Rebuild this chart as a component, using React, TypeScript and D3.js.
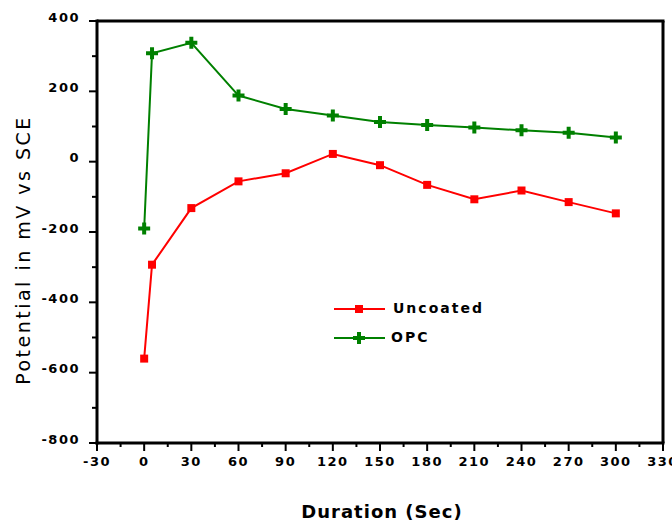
import React from "react";
import * as d3 from "d3";

const durations = [0, 5, 30, 60, 90, 120, 150, 180, 210, 240, 270, 300];
const uncoated = [-560, -293, -132, -56, -33, 22, -10, -66, -107, -82, -115, -147];
const opcDurations = [0, 5, 30, 60, 90, 120, 150, 180, 210, 240, 270, 300];
const opc = [-190, 308, 338, 188, 150, 131, 113, 104, 97, 89, 82, 69];
const xTicks = [-30, 0, 30, 60, 90, 120, 150, 180, 210, 240, 270, 300, 330];
const yTicks = [400, 200, 0, -200, -400, -600, -800];
const seriesNames = ["Uncoated", "OPC"];

const W = 672;
const H = 523;
const L = 97, R = 663, T = 21, B = 443;

export default function App() {
  const x = d3.scaleLinear().domain([-30, 330]).range([L, R]);
  const y = d3.scaleLinear().domain([-800, 400]).range([B, T]);
  const line = d3.line<[number, number]>().x(d => x(d[0])).y(d => y(d[1]));
  const redPts: [number, number][] = durations.map((d, i) => [d, uncoated[i]]);
  const greenPts: [number, number][] = opcDurations.map((d, i) => [d, opc[i]]);
  const cross = d3.symbol().type(d3.symbolCross).size(80)() as string;
  const square = d3.symbol().type(d3.symbolSquare).size(64)() as string;
  const xMinor = d3.range(-15, 330, 30);
  const yMinor = d3.range(-700, 400, 200);
  const tickFont = { fontFamily: "DejaVu Sans", fontWeight: 700, fontSize: 13, letterSpacing: 1.5 } as const;

  return (
    <svg width={W} height={H} style={{ position: "absolute", left: 0, top: 0, background: "#fff" }}>
      <rect x={0} y={0} width={W} height={H} fill="#fff" />
      {/* data lines */}
      <path d={line(greenPts) || ""} fill="none" stroke="#008000" strokeWidth={2} />
      <path d={line(redPts) || ""} fill="none" stroke="#ff0000" strokeWidth={2} />
      {redPts.map((p, i) => (
        <path key={"r" + i} d={square} transform={`translate(${x(p[0])},${y(p[1])})`} fill="#ff0000" />
      ))}
      {greenPts.map((p, i) => (
        <path key={"g" + i} d={cross} transform={`translate(${x(p[0])},${y(p[1])})`} fill="#008000" />
      ))}
      {/* frame */}
      <line x1={L} x2={R + 1.5} y1={T} y2={T} stroke="#000" strokeWidth={3} />
      <line x1={R} x2={R} y1={T} y2={B} stroke="#000" strokeWidth={3} />
      <line x1={L} x2={L} y1={T - 1.5} y2={B + 1.5} stroke="#000" strokeWidth={3} />
      <line x1={L - 1.5} x2={R + 1.5} y1={B} y2={B} stroke="#000" strokeWidth={3} />
      {/* y ticks */}
      {yTicks.map(v => (
        <g key={"yt" + v}>
          <line x1={L - 8} x2={L} y1={y(v)} y2={y(v)} stroke="#000" strokeWidth={2} />
          <text x={80} y={y(v) - 3} textAnchor="end" dominantBaseline="middle" {...tickFont}>{v}</text>
        </g>
      ))}
      {yMinor.map(v => (
        <line key={"ym" + v} x1={L - 5} x2={L} y1={y(v)} y2={y(v)} stroke="#000" strokeWidth={2} />
      ))}
      {/* x ticks */}
      {xTicks.map(v => (
        <g key={"xt" + v}>
          <line x1={x(v)} x2={x(v)} y1={B} y2={B + 8} stroke="#000" strokeWidth={2} />
          <text x={x(v)} y={462} textAnchor="middle" dominantBaseline="middle" {...tickFont}>{v}</text>
        </g>
      ))}
      {xMinor.map(v => (
        <line key={"xm" + v} x1={x(v)} x2={x(v)} y1={B} y2={B + 4} stroke="#000" strokeWidth={2} />
      ))}
      {/* axis titles */}
      <text x={382} y={513} textAnchor="middle" dominantBaseline="middle" fontFamily="DejaVu Sans" fontWeight={700} fontSize={18} letterSpacing={1}>Duration (Sec)</text>
      <text transform="translate(24,250) rotate(-90)" textAnchor="middle" dominantBaseline="middle" fontFamily="DejaVu Sans" fontSize={19} letterSpacing={2.5}>Potential in mV vs SCE</text>
      {/* legend */}
      <line x1={334} x2={385} y1={309} y2={309} stroke="#ff0000" strokeWidth={2} />
      <path d={square} transform="translate(359,309)" fill="#ff0000" />
      <text x={393} y={309} dominantBaseline="middle" fontFamily="DejaVu Sans" fontWeight={700} fontSize={14} letterSpacing={2}>{seriesNames[0]}</text>
      <line x1={334} x2={385} y1={338} y2={338} stroke="#008000" strokeWidth={2} />
      <path d={cross} transform="translate(359,338)" fill="#008000" />
      <text x={391} y={338} dominantBaseline="middle" fontFamily="DejaVu Sans" fontWeight={700} fontSize={14} letterSpacing={2}>{seriesNames[1]}</text>
    </svg>
  );
}
